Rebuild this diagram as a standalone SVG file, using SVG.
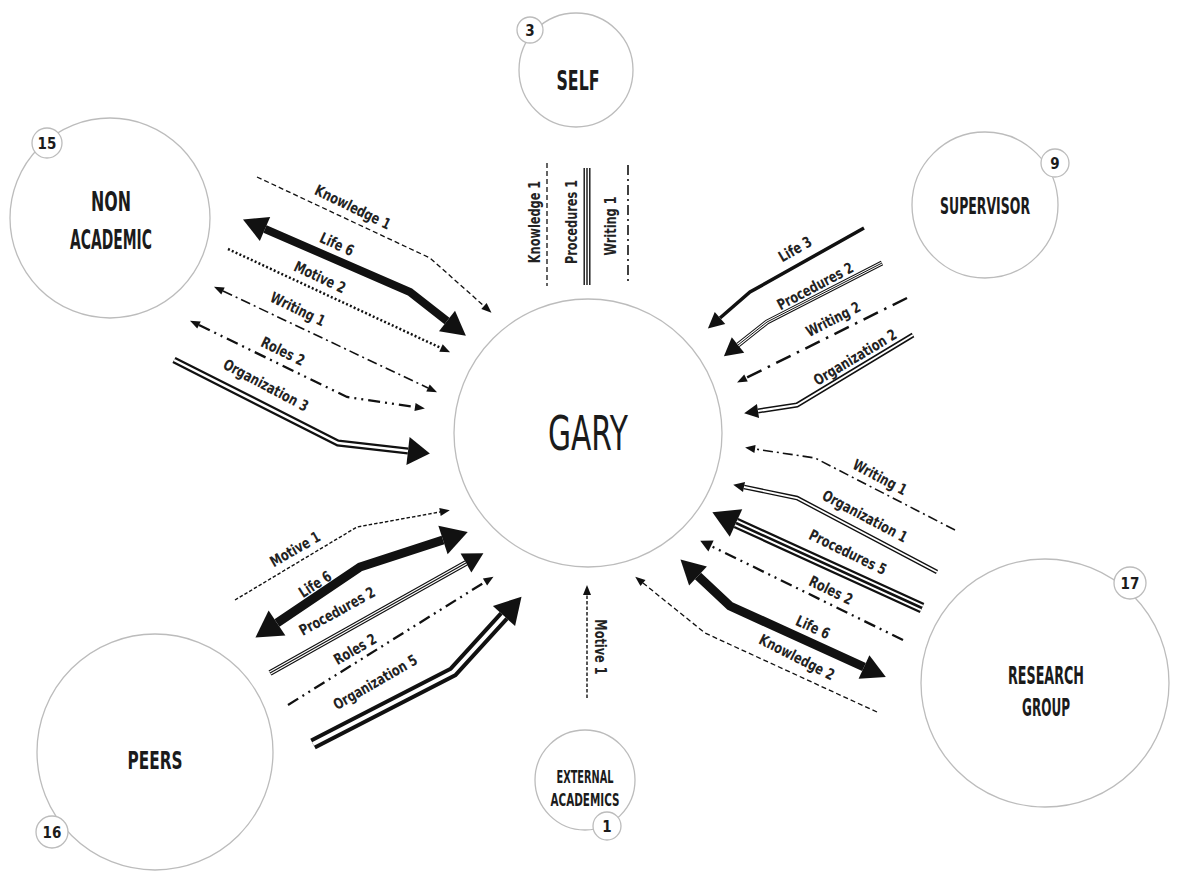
<svg xmlns="http://www.w3.org/2000/svg" width="1182" height="876" viewBox="0 0 1182 876">
  <style>
    .ring { fill: #fff; stroke: #bcbcbc; stroke-width: 1.3; }
    .badge { fill: #fff; stroke: #bcbcbc; stroke-width: 1.3; }
    .title { font-family: 'DejaVu Sans Condensed', 'Liberation Sans Narrow', 'Liberation Sans', sans-serif; fill: #1b1b1b; text-anchor: middle; font-weight: bold; }
    .title.light { font-weight: normal; }
    .num { font-family: 'DejaVu Sans Condensed', 'Liberation Sans Narrow', 'Liberation Sans', sans-serif; fill: #1b1b1b; text-anchor: middle; font-size: 15px; font-weight: bold; }
    .lbl { font-family: 'DejaVu Sans Condensed', 'Liberation Sans Narrow', 'Liberation Sans', sans-serif; fill: #222; text-anchor: middle; dominant-baseline: central; font-size: 15px; font-weight: bold; }
    .c { fill: none; stroke: #111; stroke-linejoin: miter; stroke-linecap: butt; }
    .gap { fill: none; stroke: #fff; stroke-linejoin: miter; stroke-linecap: butt; }
    .dash { stroke-width: 1.3; stroke-dasharray: 5 3; }
    .fine { stroke-width: 1.4; stroke-dasharray: 3.5 2; }
    .dot { stroke-width: 2.5; stroke-dasharray: 2 2.2; }
    .dashdot { stroke-width: 1.6; stroke-dasharray: 10 4 2 4; }
    .dashdot-b { stroke-width: 2.5; stroke-dasharray: 16 7 2.5 7; }
    .dashdot2 { stroke-width: 2.3; stroke-dasharray: 12 5 2 5 2 5; }
    .head { fill: #111; stroke: none; }
  </style>
  <defs>
    <marker id="ah10" markerUnits="userSpaceOnUse" orient="auto-start-reverse" refX="0" refY="0" overflow="visible"><path class="head" d="M0,-4 L10,0 L0,4 z"/></marker>
    <marker id="ah11" markerUnits="userSpaceOnUse" orient="auto-start-reverse" refX="0" refY="0" overflow="visible"><path class="head" d="M0,-5 L11,0 L0,5 z"/></marker>
    <marker id="ah12" markerUnits="userSpaceOnUse" orient="auto-start-reverse" refX="0" refY="0" overflow="visible"><path class="head" d="M0,-6 L12,0 L0,6 z"/></marker>
    <marker id="ah14" markerUnits="userSpaceOnUse" orient="auto-start-reverse" refX="0" refY="0" overflow="visible"><path class="head" d="M0,-7 L14,0 L0,7 z"/></marker>
    <marker id="ah16" markerUnits="userSpaceOnUse" orient="auto-start-reverse" refX="0" refY="0" overflow="visible"><path class="head" d="M0,-8 L16,0 L0,8 z"/></marker>
    <marker id="ah18" markerUnits="userSpaceOnUse" orient="auto-start-reverse" refX="0" refY="0" overflow="visible"><path class="head" d="M0,-10 L18,0 L0,10 z"/></marker>
    <marker id="ah20" markerUnits="userSpaceOnUse" orient="auto-start-reverse" refX="0" refY="0" overflow="visible"><path class="head" d="M0,-11 L20,0 L0,11 z"/></marker>
    <marker id="ah22" markerUnits="userSpaceOnUse" orient="auto-start-reverse" refX="0" refY="0" overflow="visible"><path class="head" d="M0,-14 L22,0 L0,14 z"/></marker>
    <marker id="ah24" markerUnits="userSpaceOnUse" orient="auto-start-reverse" refX="0" refY="0" overflow="visible"><path class="head" d="M0,-13 L24,0 L0,13 z"/></marker>
    <marker id="ah26" markerUnits="userSpaceOnUse" orient="auto-start-reverse" refX="0" refY="0" overflow="visible"><path class="head" d="M0,-15 L26,0 L0,15 z"/></marker>
  </defs>

  <rect width="1182" height="876" fill="#fff"/>

  <!-- centre node -->
  <g id="gary">
    <circle class="ring" cx="588" cy="433" r="134"/>
    <text class="title light" x="588" y="450" font-size="48" textLength="80" lengthAdjust="spacingAndGlyphs">GARY</text>
  </g>

  <g id="self">
    <circle class="ring" cx="576" cy="70" r="57"/>
    <circle class="badge" cx="530" cy="30" r="13"/>
    <text class="num" x="530" y="36">3</text>
    <text class="title" x="578" y="90" font-size="26" textLength="43" lengthAdjust="spacingAndGlyphs">SELF</text>
  </g>

  <g id="non-academic">
    <circle class="ring" cx="110" cy="218" r="100"/>
    <circle class="badge" cx="47" cy="143" r="15"/>
    <text class="num" x="47" y="149">15</text>
    <text class="title" x="111" y="211" font-size="27" textLength="40" lengthAdjust="spacingAndGlyphs">NON</text>
    <text class="title" x="111" y="249" font-size="27" textLength="82" lengthAdjust="spacingAndGlyphs">ACADEMIC</text>
  </g>

  <g id="supervisor">
    <circle class="ring" cx="985" cy="205" r="73"/>
    <circle class="badge" cx="1055" cy="163" r="14"/>
    <text class="num" x="1055" y="169">9</text>
    <text class="title" x="985" y="214" font-size="23" textLength="90" lengthAdjust="spacingAndGlyphs">SUPERVISOR</text>
  </g>

  <g id="research-group">
    <circle class="ring" cx="1045" cy="683" r="124"/>
    <circle class="badge" cx="1130" cy="583" r="16"/>
    <text class="num" x="1130" y="589">17</text>
    <text class="title" x="1046" y="684" font-size="25" textLength="76" lengthAdjust="spacingAndGlyphs">RESEARCH</text>
    <text class="title" x="1046" y="716" font-size="25" textLength="48" lengthAdjust="spacingAndGlyphs">GROUP</text>
  </g>

  <g id="peers">
    <circle class="ring" cx="155" cy="752" r="118"/>
    <circle class="badge" cx="52" cy="832" r="16"/>
    <text class="num" x="52" y="838">16</text>
    <text class="title" x="155" y="769" font-size="25" textLength="55" lengthAdjust="spacingAndGlyphs">PEERS</text>
  </g>

  <g id="external-academics">
    <circle class="ring" cx="585" cy="780" r="50"/>
    <circle class="badge" cx="607" cy="826" r="14"/>
    <text class="num" x="607" y="832">1</text>
    <text class="title" x="585" y="783" font-size="17" textLength="57" lengthAdjust="spacingAndGlyphs">EXTERNAL</text>
    <text class="title" x="585" y="806" font-size="17" textLength="69" lengthAdjust="spacingAndGlyphs">ACADEMICS</text>
  </g>

  <g id="connectors">
    <!-- SELF -> GARY (no heads) -->
    <path class="c dash" d="M547,163 L547,286"/>
    <path class="c" stroke-width="7" d="M587,168 L587,285"/>
    <path class="gap" stroke-width="4.2" d="M587,168 L587,285"/>
    <path class="c" stroke-width="1.4" d="M587,168 L587,285"/>
    <path class="c dashdot" d="M628,165 L628,282"/>

    <!-- NON ACADEMIC <-> GARY -->
    <path class="c dash" d="M257,177 L430,258 L484,306" marker-end="url(#ah10)"/>
    <path class="c" stroke-width="8" d="M265,229 L410,292 L447,321" marker-start="url(#ah24)" marker-end="url(#ah24)"/>
    <path class="c dot" d="M228,249 L441,348" marker-end="url(#ah10)"/>
    <path class="c dashdot" d="M223,291 L428,388" marker-start="url(#ah10)" marker-end="url(#ah10)"/>
    <path class="c dashdot2" d="M199,325 L347,397 L415,407" marker-start="url(#ah10)" marker-end="url(#ah10)"/>
    <path class="c" stroke-width="7" d="M174,360 L338,443 L408,451" marker-end="url(#ah22)"/>
    <path class="gap" stroke-width="2.5" d="M174,360 L338,443 L408,451"/>

    <!-- SUPERVISOR -> GARY -->
    <path class="c" stroke-width="3.5" d="M864,228 L750,292 L720,318" marker-end="url(#ah16)"/>
    <path class="c" stroke-width="5" d="M882,263 L767,322 L738,345" marker-end="url(#ah18)"/>
    <path class="gap" stroke-width="3" d="M882,263 L767,322 L738,345"/>
    <path class="c" stroke-width="1" d="M882,263 L767,322 L738,345"/>
    <path class="c dashdot-b" d="M907,298 L746,378" marker-end="url(#ah10)"/>
    <path class="c" stroke-width="5" d="M913,335 L797,405 L758,411" marker-end="url(#ah14)"/>
    <path class="gap" stroke-width="2" d="M913,335 L797,405 L758,411"/>

    <!-- RESEARCH GROUP <-> GARY -->
    <path class="c dashdot" d="M955,530 L815,458 L755,449" marker-end="url(#ah10)"/>
    <path class="c" stroke-width="4.5" d="M937,572 L797,498 L744,487" marker-end="url(#ah11)"/>
    <path class="gap" stroke-width="1.8" d="M937,572 L797,498 L744,487"/>
    <path class="c" stroke-width="11" d="M922,608 L736,523" marker-end="url(#ah26)"/>
    <path class="gap" stroke-width="6.5" d="M922,608 L736,523"/>
    <path class="c" stroke-width="2.5" d="M922,608 L736,523"/>
    <path class="c dashdot2" d="M903,640 L711,546" marker-end="url(#ah12)"/>
    <path class="c" stroke-width="9" d="M698,576 L730,606 L864,667" marker-start="url(#ah24)" marker-end="url(#ah24)"/>
    <path class="c dash" d="M877,712 L705,633 L643,583" marker-end="url(#ah10)"/>

    <!-- PEERS <-> GARY -->
    <path class="c fine" d="M235,600 L357,527 L440,512" marker-end="url(#ah10)"/>
    <path class="c" stroke-width="9" d="M277,623 L360,567 L443,540" marker-start="url(#ah26)" marker-end="url(#ah26)"/>
    <path class="c" stroke-width="6" d="M270,673 L466,563" marker-end="url(#ah20)"/>
    <path class="gap" stroke-width="3.6" d="M270,673 L466,563"/>
    <path class="c" stroke-width="1.2" d="M270,673 L466,563"/>
    <path class="c dashdot2" d="M288,705 L485,582" marker-end="url(#ah10)"/>
    <path class="c" stroke-width="12" d="M313,744 L453,672 L504,616" marker-end="url(#ah26)"/>
    <path class="gap" stroke-width="4" d="M313,744 L453,672 L504,616"/>

    <!-- EXTERNAL ACADEMICS -> GARY -->
    <path class="c fine" d="M587,698 L587,595" marker-end="url(#ah10)"/>

    <g id="connector-labels">
      <text class="lbl" transform="translate(535,222) rotate(-90) scale(0.84,1)">Knowledge 1</text>
      <text class="lbl" transform="translate(572,222) rotate(-90) scale(0.84,1)">Procedures 1</text>
      <text class="lbl" transform="translate(611,226) rotate(-90) scale(0.84,1)">Writing 1</text>

      <text class="lbl" transform="translate(353,207) rotate(26) scale(0.84,1)">Knowledge 1</text>
      <text class="lbl" transform="translate(337,244) rotate(25) scale(0.84,1)">Life 6</text>
      <text class="lbl" transform="translate(320,277) rotate(25) scale(0.84,1)">Motive 2</text>
      <text class="lbl" transform="translate(298,309) rotate(26) scale(0.84,1)">Writing 1</text>
      <text class="lbl" transform="translate(283,351) rotate(26) scale(0.84,1)">Roles 2</text>
      <text class="lbl" transform="translate(266,385) rotate(28) scale(0.84,1)">Organization 3</text>

      <text class="lbl" transform="translate(795,249) rotate(-30) scale(0.84,1)">Life 3</text>
      <text class="lbl" transform="translate(815,286) rotate(-28) scale(0.84,1)">Procedures 2</text>
      <text class="lbl" transform="translate(833,319) rotate(-27) scale(0.84,1)">Writing 2</text>
      <text class="lbl" transform="translate(855,357) rotate(-31) scale(0.84,1)">Organization 2</text>

      <text class="lbl" transform="translate(880,477) rotate(28) scale(0.84,1)">Writing 1</text>
      <text class="lbl" transform="translate(865,516) rotate(28) scale(0.84,1)">Organization 1</text>
      <text class="lbl" transform="translate(848,552) rotate(26) scale(0.84,1)">Procedures 5</text>
      <text class="lbl" transform="translate(831,590) rotate(26) scale(0.84,1)">Roles 2</text>
      <text class="lbl" transform="translate(813,627) rotate(25) scale(0.84,1)">Life 6</text>
      <text class="lbl" transform="translate(797,657) rotate(27) scale(0.84,1)">Knowledge 2</text>

      <text class="lbl" transform="translate(295,549) rotate(-30) scale(0.84,1)">Motive 1</text>
      <text class="lbl" transform="translate(315,584) rotate(-33) scale(0.84,1)">Life 6</text>
      <text class="lbl" transform="translate(337,611) rotate(-29) scale(0.84,1)">Procedures 2</text>
      <text class="lbl" transform="translate(355,649) rotate(-30) scale(0.84,1)">Roles 2</text>
      <text class="lbl" transform="translate(375,682) rotate(-30) scale(0.84,1)">Organization 5</text>

      <text class="lbl" transform="translate(600,647) rotate(90) scale(0.84,1)">Motive 1</text>
    </g>
  </g>
</svg>
